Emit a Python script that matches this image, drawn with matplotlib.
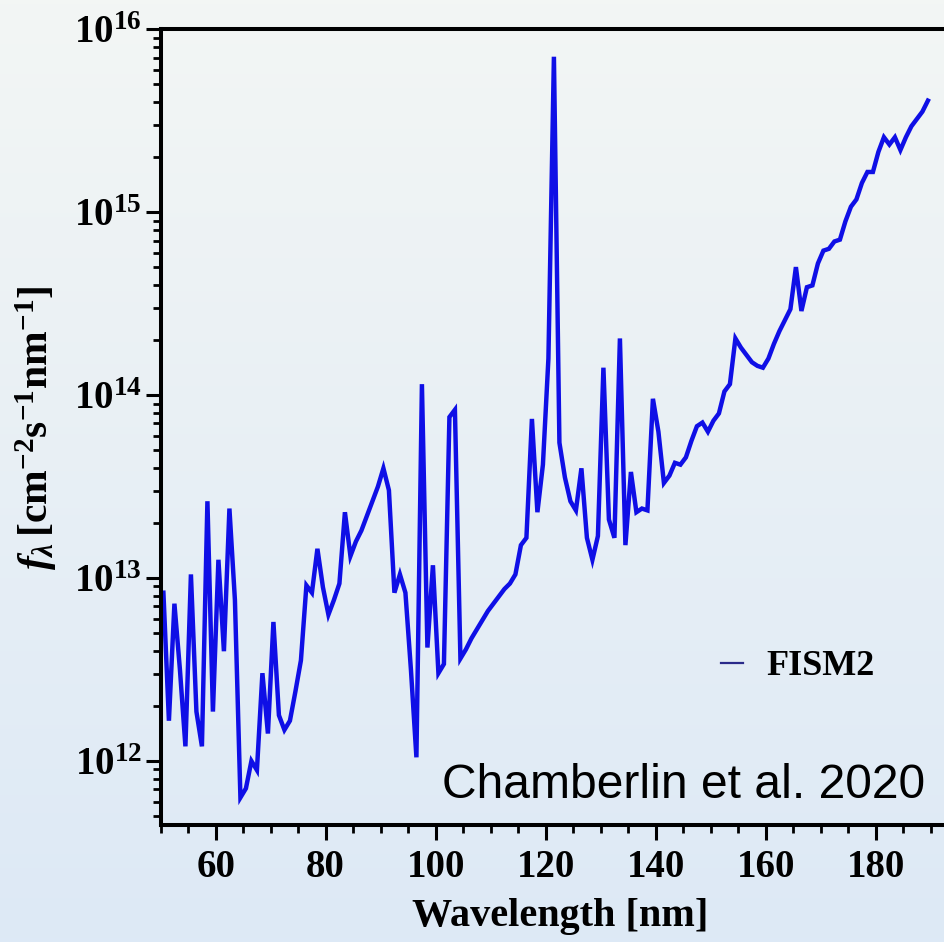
import numpy as np
import matplotlib
matplotlib.use("Agg")
import matplotlib.pyplot as plt
from matplotlib.lines import Line2D
from matplotlib.ticker import MultipleLocator, LogLocator, FuncFormatter, NullFormatter

plt.rcParams["font.family"] = ["Liberation Serif", "DejaVu Serif"]
plt.rcParams["font.weight"] = "bold"
plt.rcParams["mathtext.fontset"] = "custom"
plt.rcParams["mathtext.rm"] = "Liberation Serif:bold"
plt.rcParams["mathtext.bf"] = "Liberation Serif:bold"
plt.rcParams["mathtext.it"] = "Liberation Serif:bold:italic"

# FISM2 spectrum, 1 nm bins (bin centres in nm)
wavelength = [
    50.5, 51.5, 52.5, 53.5, 54.5, 55.5, 56.5, 57.5, 58.5, 59.5,
    60.5, 61.5, 62.5, 63.5, 64.5, 65.5, 66.5, 67.5, 68.5, 69.5,
    70.5, 71.5, 72.5, 73.5, 74.5, 75.5, 76.5, 77.5, 78.5, 79.5,
    80.5, 81.5, 82.5, 83.5, 84.5, 85.5, 86.5, 87.5, 88.5, 89.5,
    90.5, 91.5, 92.5, 93.5, 94.5, 95.5, 96.5, 97.5, 98.5, 99.5,
    100.5, 101.5, 102.5, 103.5, 104.5, 105.5, 106.5, 107.5, 108.5, 109.5,
    110.5, 111.5, 112.5, 113.5, 114.5, 115.5, 116.5, 117.5, 118.5, 119.5,
    120.5, 121.5, 122.5, 123.5, 124.5, 125.5, 126.5, 127.5, 128.5, 129.5,
    130.5, 131.5, 132.5, 133.5, 134.5, 135.5, 136.5, 137.5, 138.5, 139.5,
    140.5, 141.5, 142.5, 143.5, 144.5, 145.5, 146.5, 147.5, 148.5, 149.5,
    150.5, 151.5, 152.5, 153.5, 154.5, 155.5, 156.5, 157.5, 158.5, 159.5,
    160.5, 161.5, 162.5, 163.5, 164.5, 165.5, 166.5, 167.5, 168.5, 169.5,
    170.5, 171.5, 172.5, 173.5, 174.5, 175.5, 176.5, 177.5, 178.5, 179.5,
    180.5, 181.5, 182.5, 183.5, 184.5, 185.5, 186.5, 187.5, 188.5, 189.5,
]

# log10 of photon flux [cm^-2 s^-1 nm^-1]
log_flux = [
    12.92, 12.22, 12.86, 12.50, 12.08, 13.02, 12.27, 12.08, 13.42, 12.27,
    13.10, 12.60, 13.38, 12.88, 11.80, 11.85, 12.00, 11.95, 12.48, 12.15,
    12.76, 12.25, 12.17, 12.22, 12.38, 12.55, 12.96, 12.92, 13.16, 12.95,
    12.80, 12.88, 12.97, 13.36, 13.12, 13.20, 13.26, 13.34, 13.42, 13.50,
    13.60, 13.48, 12.92, 13.02, 12.92, 12.50, 12.02, 14.06, 12.62, 13.07,
    12.48, 12.53, 13.88, 13.92, 12.56, 12.61, 12.67, 12.72, 12.77, 12.82,
    12.86, 12.90, 12.94, 12.97, 13.02, 13.18, 13.22, 13.87, 13.36, 13.62,
    14.20, 15.85, 13.74, 13.55, 13.42, 13.37, 13.60, 13.22, 13.10, 13.23,
    14.15, 13.32, 13.22, 14.31, 13.18, 13.58, 13.36, 13.38, 13.37, 13.98,
    13.80, 13.52, 13.56, 13.63, 13.62, 13.66, 13.75, 13.83, 13.85, 13.80,
    13.86, 13.90, 14.02, 14.06, 14.31, 14.26, 14.22, 14.18, 14.16, 14.15,
    14.20, 14.28, 14.35, 14.41, 14.47, 14.70, 14.46, 14.59, 14.60, 14.72,
    14.79, 14.80, 14.84, 14.85, 14.95, 15.03, 15.07, 15.16, 15.22, 15.22,
    15.33, 15.41, 15.37, 15.41, 15.34, 15.41, 15.47, 15.51, 15.55, 15.61,
]

flux = 10.0 ** np.array(log_flux)

fig = plt.figure(figsize=(9.44, 9.42), dpi=100)

# soft vertical background gradient over the whole figure
bg = fig.add_axes([0, 0, 1, 1], zorder=-10)
top_col = np.array([243, 246, 244]) / 255.0
bot_col = np.array([221, 233, 246]) / 255.0
t = np.linspace(0, 1, 256)[:, None]
grad = top_col[None, :] * (1 - t) + bot_col[None, :] * t
bg.imshow(grad[:, None, :], aspect="auto", extent=[0, 1, 0, 1])
bg.set_axis_off()

ax = fig.add_axes([0.1702, 0.1242, 0.8448, 0.8447])
ax.patch.set_alpha(0)

ax.plot(wavelength, flux, color="#0f0fe6", lw=3.2, solid_joinstyle="miter")

ax.set_yscale("log")
ax.set_xlim(50, 195)
ax.set_ylim(10 ** 11.65, 1e16)

ax.xaxis.set_major_locator(MultipleLocator(20))
ax.xaxis.set_minor_locator(MultipleLocator(5))
ax.yaxis.set_major_locator(LogLocator(base=10, numticks=10))
ax.yaxis.set_minor_locator(LogLocator(base=10, subs=np.arange(2, 10), numticks=20))
ax.yaxis.set_minor_formatter(NullFormatter())
ax.yaxis.set_major_formatter(FuncFormatter(lambda v, p: r"$10^{%d}$" % round(np.log10(v))))

for s in ax.spines.values():
    s.set_linewidth(2.9)
ax.tick_params(which="major", direction="out", length=10.5, width=2.2, labelsize=28)
ax.tick_params(which="minor", direction="out", length=5.5, width=2.0)
ax.tick_params(axis="x", which="major", pad=7)
ax.tick_params(axis="y", which="major", pad=3)
for lab in ax.get_xticklabels() + ax.get_yticklabels():
    lab.set_fontweight("bold")

fig.text(0.5932, 0.027, "Wavelength [nm]", fontsize=29, fontweight="bold",
         ha="center", va="center")
fig.text(0.038, 0.546, r"$f_\lambda\,[\mathrm{cm}^{-2}\mathrm{s}^{-1}\mathrm{nm}^{-1}]$",
         fontsize=30, rotation=90, ha="center", va="center")

handle = Line2D([], [], color="#2a2a8a", lw=1.6)
ax.legend([handle], ["FISM2"], loc="center left", bbox_to_anchor=(0.662, 0.199),
          frameon=False, handlelength=0.6, handletextpad=0.65,
          prop={"family": "Liberation Serif", "weight": "bold", "size": 26})

fig.text(0.98, 0.153, "Chamberlin et al. 2020", fontsize=34.6, family="Liberation Sans",
         fontweight="normal", ha="right", va="baseline")

fig.savefig("out.png", dpi=100)
